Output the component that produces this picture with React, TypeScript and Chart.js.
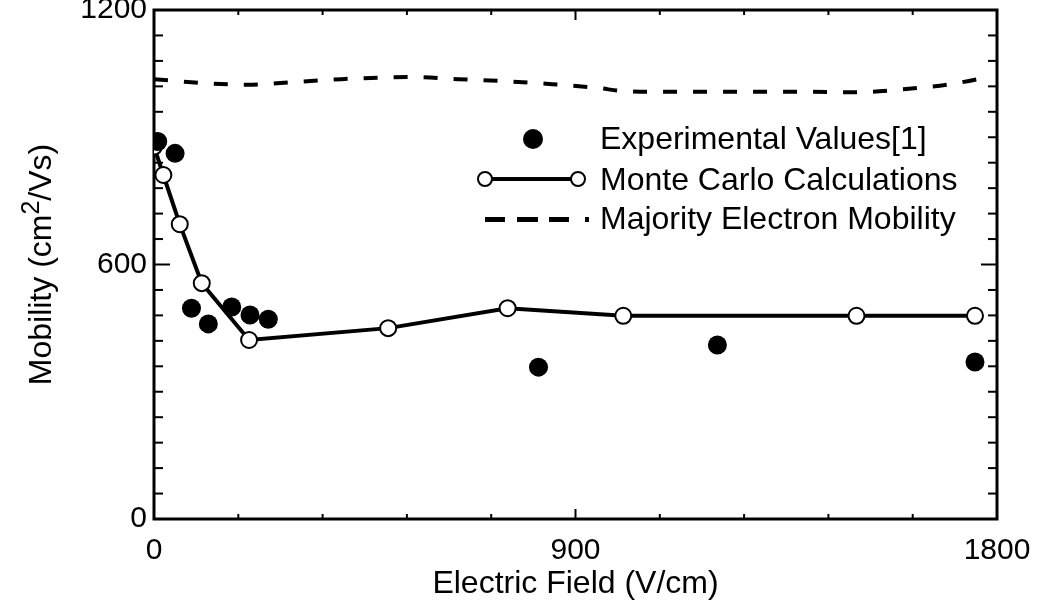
import React, { useEffect, useRef } from 'react';
import { Chart, registerables } from 'chart.js';

Chart.register(...registerables);

// ---- data ----
const expField = [8, 45, 80, 116, 166, 205, 244, 821, 1203, 1753];
const expMobility = [890, 862, 497, 460, 500, 481, 471, 358, 410, 370];

const mcField = [0, 20, 55, 102, 203, 500, 755, 1002, 1500, 1753];
const mcMobility = [878, 811, 695, 556, 422, 450, 497, 479, 479, 479];

const majField = [0, 100, 200, 300, 400, 500, 550, 650, 750, 850, 950, 1000, 1100, 1200, 1300, 1400, 1500, 1600, 1700, 1760];
const majMobility = [1037, 1028, 1024, 1030, 1037, 1041, 1042, 1037, 1032, 1025, 1016, 1009, 1007, 1007, 1007, 1007, 1006, 1013, 1025, 1037];

const xTicks = [0, 900, 1800];
const yTicks = [0, 600, 1200];
const xMinorStep = 180;
const yMinorStep = 60;

const legendLabels = ['Experimental Values[1]', 'Monte Carlo Calculations', 'Majority Electron Mobility'];
const xTitle = 'Electric Field (V/cm)';
const yTitleParts = ['Mobility (cm', '2', '/Vs)'];

const FONT = '"Liberation Sans", Arial, Helvetica, sans-serif';

const framePlugin = {
  id: 'frameAndLegend',
  beforeDatasetsDraw(chart: any) {
    const { ctx, chartArea: a, scales } = chart;
    const xs = scales.x;
    const ys = scales.y;
    ctx.save();
    ctx.strokeStyle = '#000';
    ctx.lineCap = 'butt';
    ctx.lineWidth = 3;
    ctx.strokeRect(a.left, a.top, a.right - a.left, a.bottom - a.top);
    ctx.lineWidth = 2;
    const line = (x1: number, y1: number, x2: number, y2: number) => {
      ctx.beginPath();
      ctx.moveTo(x1, y1);
      ctx.lineTo(x2, y2);
      ctx.stroke();
    };
    for (let v = ys.min; v <= ys.max; v += yMinorStep) {
      const y = ys.getPixelForValue(v);
      const len = yTicks.includes(v) ? 16 : 9;
      line(a.left, y, a.left + len, y);
      line(a.right, y, a.right - len, y);
    }
    for (let v = xs.min; v <= xs.max; v += xMinorStep) {
      const x = xs.getPixelForValue(v);
      const len = xTicks.includes(v) ? 10 : 5;
      line(x, a.bottom, x, a.bottom - len);
      line(x, a.top, x, a.top + len);
    }
    // y title with raised superscript
    ctx.fillStyle = '#000';
    ctx.translate(51, (a.top + a.bottom) / 2);
    ctx.rotate(-Math.PI / 2);
    const big = `32px ${FONT}`;
    const small = `25px ${FONT}`;
    ctx.font = big;
    const w0 = ctx.measureText(yTitleParts[0]).width;
    const w2 = ctx.measureText(yTitleParts[2]).width;
    ctx.font = small;
    const w1 = ctx.measureText(yTitleParts[1]).width;
    let x = -(w0 + w1 + w2) / 2;
    ctx.textBaseline = 'alphabetic';
    ctx.textAlign = 'left';
    ctx.font = big;
    ctx.fillText(yTitleParts[0], x, 0);
    x += w0;
    ctx.font = small;
    ctx.fillText(yTitleParts[1], x, -12);
    x += w1;
    ctx.font = big;
    ctx.fillText(yTitleParts[2], x, 0);
    ctx.restore();
  },
  afterDatasetsDraw(chart: any) {
    const { ctx } = chart;
    ctx.save();
    ctx.fillStyle = '#000';
    ctx.strokeStyle = '#000';
    // row 1: filled circle
    ctx.beginPath();
    ctx.arc(533, 139, 10, 0, Math.PI * 2);
    ctx.fill();
    // row 2: line with open circles
    ctx.lineWidth = 4;
    ctx.beginPath();
    ctx.moveTo(485, 179);
    ctx.lineTo(578, 179);
    ctx.stroke();
    ctx.lineWidth = 2;
    [485, 578].forEach((cx) => {
      ctx.beginPath();
      ctx.arc(cx, 179, 7, 0, Math.PI * 2);
      ctx.fillStyle = '#fff';
      ctx.fill();
      ctx.stroke();
    });
    // row 3: three dashes and a dot
    ctx.fillStyle = '#000';
    [[485, 505], [517, 538], [549, 569], [585, 589]].forEach(([x1, x2]) => {
      ctx.fillRect(x1, 217, x2 - x1, 5);
    });
    ctx.font = `32px ${FONT}`;
    ctx.textAlign = 'left';
    ctx.textBaseline = 'alphabetic';
    ctx.fillText(legendLabels[0], 600, 149);
    ctx.fillText(legendLabels[1], 600, 190);
    ctx.fillText(legendLabels[2], 600, 229);
    ctx.restore();
  },
};

export default function App() {
  const ref = useRef<HTMLCanvasElement | null>(null);
  useEffect(() => {
    if (!ref.current) return;
    const chart = new Chart(ref.current, {
      type: 'scatter',
      data: {
        datasets: [
          {
            label: legendLabels[0],
            data: expField.map((x, i) => ({ x, y: expMobility[i] })),
            showLine: false,
            pointRadius: 9.5,
            pointHoverRadius: 9.5,
            pointBackgroundColor: '#000',
            pointBorderColor: '#000',
            pointBorderWidth: 0,
            order: 0,
          },
          {
            label: legendLabels[1],
            data: mcField.map((x, i) => ({ x, y: mcMobility[i] })),
            showLine: true,
            borderColor: '#000',
            borderWidth: 4,
            pointRadius: 8,
            pointHoverRadius: 8,
            pointBackgroundColor: '#fff',
            pointBorderColor: '#000',
            pointBorderWidth: 2,
            order: 1,
          },
          {
            label: legendLabels[2],
            data: majField.map((x, i) => ({ x, y: majMobility[i] })),
            showLine: true,
            borderColor: '#000',
            borderWidth: 4,
            borderDash: [14, 16],
            pointRadius: 0,
            cubicInterpolationMode: 'monotone',
            order: 2,
          },
        ],
      },
      options: {
        animation: false,
        responsive: false,
        events: [],
        layout: { padding: { left: 0, top: 10, right: 44, bottom: 0 } },
        plugins: { legend: { display: false }, tooltip: { enabled: false } },
        scales: {
          x: {
            type: 'linear',
            min: 0,
            max: 1800,
            afterBuildTicks: (s: any) => { s.ticks = xTicks.map((v) => ({ value: v })); },
            afterFit: (s: any) => { s.height = 84; s.paddingLeft = 0; s.paddingRight = 0; },
            grid: { display: false, drawTicks: false },
            border: { display: false },
            ticks: { color: '#000', font: { family: FONT, size: 30 }, padding: 14, maxRotation: 0, callback: (v: any) => String(v) },
            title: { display: true, text: xTitle, color: '#000', font: { family: FONT, size: 32 }, padding: { top: 0, bottom: 0 } },
          },
          y: {
            type: 'linear',
            min: 0,
            max: 1200,
            afterBuildTicks: (s: any) => { s.ticks = yTicks.map((v) => ({ value: v })); },
            afterFit: (s: any) => { s.width = 154; s.paddingTop = 0; s.paddingBottom = 0; },
            grid: { display: false, drawTicks: false },
            border: { display: false },
            ticks: { color: '#000', font: { family: FONT, size: 30 }, padding: 7, callback: (v: any) => String(v) },
          },
        },
      },
      plugins: [framePlugin],
    } as any);
    return () => chart.destroy();
  }, []);
  return (
    <div style={{ position: 'fixed', left: 0, top: 0, width: 1041, height: 603, background: '#fff' }}>
      <canvas ref={ref} width={1041} height={603} />
    </div>
  );
}
